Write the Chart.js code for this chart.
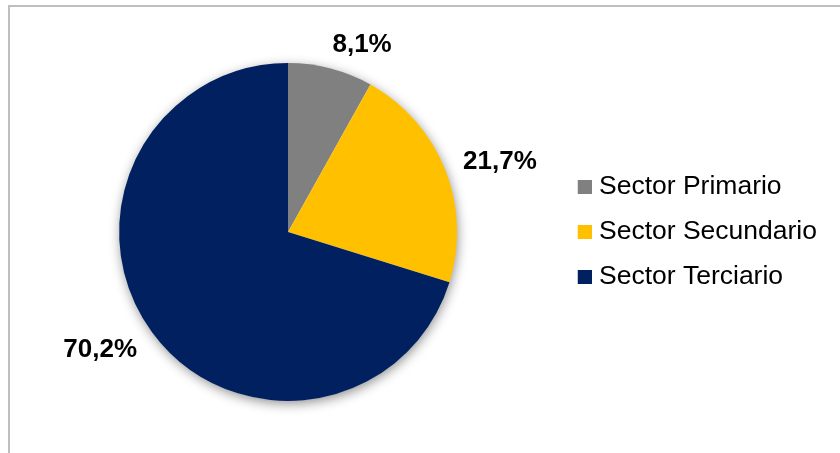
<!DOCTYPE html>
<html>
<head>
<meta charset="utf-8">
<script src="https://cdn.jsdelivr.net/npm/chart.js@4/dist/chart.umd.min.js"></script>
<style>
  html, body { margin: 0; padding: 0; background: #ffffff; overflow: hidden; }
  #wrap { position: relative; width: 840px; height: 453px; }
  #frame { position: absolute; left: 8px; top: 5px; width: 900px; height: 500px;
           border-top: 2px solid #bfbfbf; border-left: 2px solid #bfbfbf; box-sizing: border-box; pointer-events: none; }
  canvas { position: absolute; left: 0; top: 0; }
</style>
</head>
<body>
<div id="wrap">
  <canvas id="c" width="840" height="453"></canvas>
  <div id="frame"></div>
</div>
<script>
const categories = ['Sector Primario', 'Sector Secundario', 'Sector Terciario'];
const values = [8.1, 21.7, 70.2];
const valueLabels = ['8,1%', '21,7%', '70,2%'];
const colors = ['#808080', '#FFC000', '#002060'];

function makeSwatch(color) {
  const cv = document.createElement('canvas');
  cv.width = 26; cv.height = 14;
  const g = cv.getContext('2d');
  g.fillStyle = color;
  g.fillRect(12, 0, 14, 14);
  return cv;
}
const swatches = colors.map(makeSwatch);

const shadowPlugin = {
  id: 'pieShadow',
  beforeDatasetsDraw(chart) {
    const meta = chart.getDatasetMeta(0);
    if (!meta.data.length) return;
    const arc = meta.data[0];
    const {x, y, outerRadius} = arc.getProps(['x', 'y', 'outerRadius'], true);
    const ctx = chart.ctx;
    ctx.save();
    ctx.shadowColor = 'rgba(0,0,0,0.45)';
    ctx.shadowBlur = 12;
    ctx.shadowOffsetX = 1;
    ctx.shadowOffsetY = 3;
    ctx.fillStyle = '#ffffff';
    ctx.beginPath();
    ctx.arc(x, y, outerRadius - 0.5, 0, Math.PI * 2);
    ctx.fill();
    ctx.restore();
  }
};

const labelPlugin = {
  id: 'outsideLabels',
  afterDatasetsDraw(chart) {
    const meta = chart.getDatasetMeta(0);
    const ctx = chart.ctx;
    ctx.save();
    ctx.font = 'bold 26px "Liberation Sans", Arial, sans-serif';
    ctx.fillStyle = '#000000';
    ctx.textAlign = 'center';
    ctx.textBaseline = 'middle';
    const d = 18, h = 17, oy = 2;
    meta.data.forEach((arc, i) => {
      const p = arc.getProps(['x', 'y', 'startAngle', 'endAngle', 'outerRadius'], true);
      const mid = (p.startAngle + p.endAngle) / 2;
      const r = p.outerRadius + d;
      const c = Math.cos(mid), s = Math.sin(mid);
      const px = p.x + r * c;
      const py = p.y + r * s;
      const text = valueLabels[i];
      const w = ctx.measureText(text).width;
      const cx = px + Math.sign(c) * (w / 2) * (0.86 + 0.19 * Math.abs(c));
      const cy = py + s * h / 2 + oy;
      ctx.fillText(text, cx, cy);
    });
    ctx.restore();
  }
};

new Chart(document.getElementById('c'), {
  type: 'pie',
  data: {
    labels: categories,
    datasets: [{
      data: values,
      backgroundColor: colors,
      borderWidth: 0
    }]
  },
  options: {
    responsive: false,
    devicePixelRatio: 1,
    animation: false,
    layout: { padding: { left: 23, right: 13, top: 63, bottom: 52 } },
    plugins: {
      tooltip: { enabled: false },
      legend: {
        position: 'right',
        align: 'center',
        labels: {
          font: { family: '"Liberation Sans", Arial, sans-serif', size: 26.5 },
          color: '#000000',
          padding: 18.5,
          usePointStyle: true,
          pointStyleWidth: 14,
          boxHeight: 14,
          generateLabels: () => categories.map((c, i) => ({
            text: c,
            fillStyle: colors[i],
            strokeStyle: colors[i],
            lineWidth: 0,
            pointStyle: swatches[i],
            hidden: false,
            index: i
          }))
        }
      }
    }
  },
  plugins: [shadowPlugin, labelPlugin]
});
</script>
</body>
</html>
